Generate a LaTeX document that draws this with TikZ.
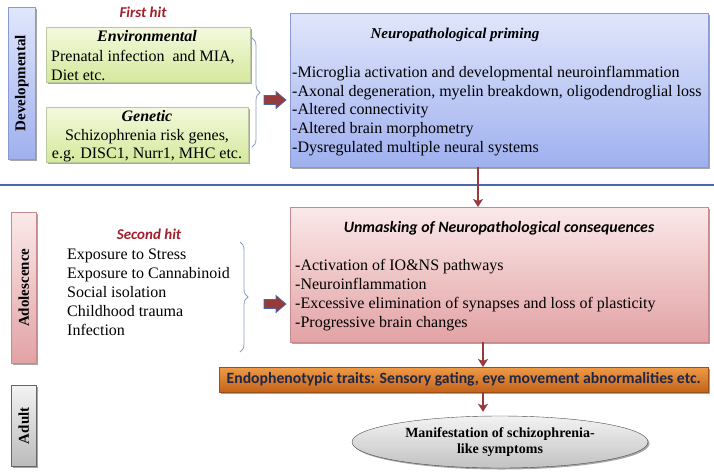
\documentclass[tikz,border=0pt]{standalone}
\usepackage{fontspec}
\setmainfont{Liberation Serif}
\newfontfamily\calfont{Carlito}
\usetikzlibrary{shadows,shapes.arrows,shapes.geometric,decorations.pathreplacing,arrows.meta}
\definecolor{bluetop}{HTML}{E0E6FB}
\definecolor{bluebot}{HTML}{9FB0EF}
\definecolor{blueline}{HTML}{8A9AD0}
\definecolor{pinktop}{HTML}{FBE9E9}
\definecolor{pinkbot}{HTML}{E2A2A5}
\definecolor{pinkline}{HTML}{C48A8C}
\definecolor{greentop}{HTML}{F4F9DE}
\definecolor{greenbot}{HTML}{D4E99C}
\definecolor{greenline}{HTML}{BCC8A0}
\definecolor{orangetop}{HTML}{EE9A46}
\definecolor{orangebot}{HTML}{C2631B}
\definecolor{graytop}{HTML}{F3F3F3}
\definecolor{graybot}{HTML}{BBBBBB}
\definecolor{hitred}{HTML}{A2202B}
\definecolor{arrred}{HTML}{973A3C}
\definecolor{navytxt}{HTML}{1F2748}
\definecolor{bracecol}{HTML}{8C9CC6}
\definecolor{sepline}{HTML}{4A66AC}
\tikzset{
  shad/.style={drop shadow={shadow xshift=1.5pt,shadow yshift=-1.5pt,opacity=0.35,fill=black}},
  boxbase/.style={anchor=north west,inner sep=0pt,shad},
  bluebox/.style={boxbase,draw=blueline,top color=bluetop,bottom color=bluebot},
  pinkbox/.style={boxbase,draw=pinkline,top color=pinktop,bottom color=pinkbot},
  greenbox/.style={boxbase,draw=greenline,top color=greentop,bottom color=greenbot},
  orangebox/.style={boxbase,draw=orangebot!80!black,top color=orangetop,bottom color=orangebot},
  graybox/.style={boxbase,draw=black!60,top color=graytop,bottom color=graybot},
  sidelabel/.style={rotate=90,font=\fontsize{15}{18}\selectfont\bfseries,inner sep=0pt},
  hit/.style={font=\calfont\fontsize{15}{18}\selectfont\bfseries\itshape,text=hitred,inner sep=0pt},
  line/.style={anchor=base west,inner sep=0pt},
  ctrline/.style={anchor=base,inner sep=0pt},
  listfont/.style={font=\fontsize{16}{19}\selectfont},
  fatpath/.style={draw=sepline,fill=arrred,line width=0.7pt,line join=miter},
  flow/.style={draw=arrred,line width=1.6pt,-{Stealth[length=8pt,width=10pt,inset=2pt]}},
  brc/.style={draw=bracecol,line width=0.8pt,decorate,decoration={brace,amplitude=8pt,aspect=0.5}}
}
\begin{document}
\begin{tikzpicture}[x=1pt,y=-1pt]
\useasboundingbox[fill=white] (0,0) rectangle (714,474);

% side labels
\node[bluebox,minimum width=27pt,minimum height=152pt] (devbox) at (8,7) {};
\node[sidelabel] (devtxt) at (devbox.center) {Developmental};
\node[pinkbox,minimum width=25pt,minimum height=151pt] (adobox) at (11,212) {};
\node[sidelabel] (adotxt) at (adobox.center) {Adolescence};
\node[graybox,minimum width=25pt,minimum height=81pt] (adubox) at (11,385) {};
\node[sidelabel] (adutxt) at (adubox.center) {Adult};

% first hit
\node[hit] (fh) at (143,12) {First hit};
\node[greenbox,minimum width=204pt,minimum height=55pt] (env) at (46,27) {};
\node[ctrline,font=\fontsize{16}{19}\selectfont\bfseries\itshape] (envt) at (147,41) {Environmental};
\node[line,listfont] (env1) at (51,61) {Prenatal infection\ \ and MIA,};
\node[line,listfont] (env2) at (51,80) {Diet etc.};
\node[greenbox,minimum width=202pt,minimum height=55pt] (gen) at (46,107) {};
\node[ctrline,font=\fontsize{16}{19}\selectfont\bfseries\itshape] (gent) at (147,121) {Genetic};
\node[ctrline,listfont] (gen1) at (147,140) {Schizophrenia risk genes,};
\node[ctrline,listfont] (gen2) at (147,158) {e.g. DISC1, Nurr1, MHC etc.};
\draw[brc] (252,38) coordinate (b1a) -- (252,147) coordinate (b1b);
\coordinate (fat1) at (264,100);
\draw[fatpath] (fat1) ++(0,-4.5) -- ++(12,0) -- ++(0,-4) -- ++(10,8.5) -- ++(-10,8.5) -- ++(0,-4) -- ++(-12,0) -- cycle;

% neuropathological priming
\node[bluebox,minimum width=418pt,minimum height=154pt] (np) at (290,13) {};
\node[ctrline,font=\fontsize{15}{18}\selectfont\bfseries\itshape] (npt) at (455,38) {Neuropathological priming};
\node[line,listfont] (np1) at (292,77) {-Microglia activation and developmental neuroinflammation};
\node[line,listfont] (np2) at (292,96) {-Axonal degeneration, myelin breakdown, oligodendroglial loss};
\node[line,listfont] (np3) at (292,114) {-Altered connectivity};
\node[line,listfont] (np4) at (292,133) {-Altered brain morphometry};
\node[line,listfont] (np5) at (292,152) {-Dysregulated multiple neural systems};

% separator
\coordinate (sepL) at (0,185);
\coordinate (sepR) at (714,185);
\draw[sepline,line width=2.5pt] (sepL) -- (sepR);

% second hit
\node[hit] (sh) at (149,234) {Second hit};
\node[line,listfont] (s1) at (67,259) {Exposure to Stress};
\node[line,listfont] (s2) at (67,278) {Exposure to Cannabinoid};
\node[line,listfont] (s3) at (67,297) {Social isolation};
\node[line,listfont] (s4) at (67,316) {Childhood trauma};
\node[line,listfont] (s5) at (67,335) {Infection};
\draw[brc] (240,242) coordinate (b2a) -- (240,352) coordinate (b2b);
\coordinate (fat2) at (264,304);
\draw[fatpath] (fat2) ++(0,-4.5) -- ++(12,0) -- ++(0,-4) -- ++(10,8.5) -- ++(-10,8.5) -- ++(0,-4) -- ++(-12,0) -- cycle;

% unmasking
\node[pinkbox,minimum width=418pt,minimum height=135pt] (um) at (290,207) {};
\node[ctrline,font=\calfont\fontsize{15.8}{18}\selectfont\bfseries\itshape] (umt) at (499,232) {Unmasking of Neuropathological consequences};
\node[line,listfont] (um1) at (295,270) {-Activation of IO\&NS pathways};
\node[line,listfont] (um2) at (295,289) {-Neuroinflammation};
\node[line,listfont] (um3) at (295,308) {-Excessive elimination of synapses and loss of plasticity};
\node[line,listfont] (um4) at (295,327) {-Progressive brain changes};

% endophenotypic
\node[orangebox,minimum width=489pt,minimum height=25pt] (endo) at (219,367) {};
\node[font=\calfont\fontsize{15.7}{18}\selectfont\bfseries,text=navytxt,inner sep=0pt] (endot) at (endo.center) {Endophenotypic traits: Sensory gating, eye movement abnormalities etc.};

% ellipse
\node[ellipse,draw=black!70,top color=graytop,bottom color=graybot!90,shad,minimum width=296pt,minimum height=52pt,inner sep=0pt,align=center,font=\fontsize{14}{16}\selectfont\bfseries] (ell) at (500,442) {Manifestation of schizophrenia-\\like symptoms};

% arrows
\coordinate (ax1) at (478,0);
\coordinate (ax2) at (483,0);
\draw[flow] (np.south -| ax1) -- (um.north -| ax1);
\draw[flow] (um.south -| ax2) -- (endo.north -| ax2);
\draw[flow] (endo.south -| ax2) -- ([yshift=4pt]ell.north -| ax2);
\end{tikzpicture}
\end{document}
